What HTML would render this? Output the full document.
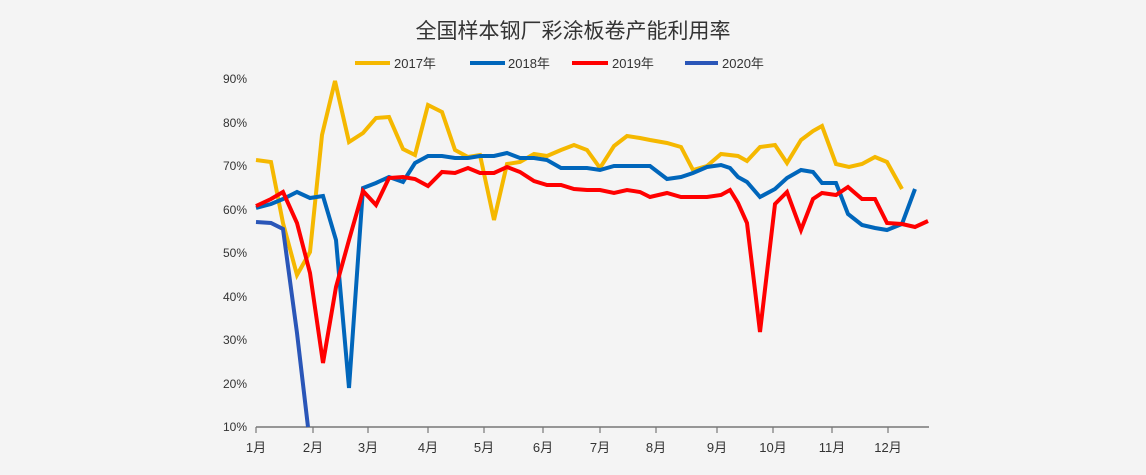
<!DOCTYPE html>
<html><head><meta charset="utf-8"><style>
html,body{margin:0;padding:0;background:#f4f4f4;}
svg{display:block;}
text{font-family:"Liberation Sans","Noto Sans CJK SC",sans-serif;fill:#333;}
</style></head><body>
<svg width="1146" height="475" viewBox="0 0 1146 475">
<rect width="1146" height="475" fill="#f4f4f4"/>
<text x="573" y="38" font-size="21" text-anchor="middle" fill="#222">全国样本钢厂彩涂板卷产能利用率</text>
<g font-size="13">
<line x1="355" y1="63" x2="390" y2="63" stroke="#F5B800" stroke-width="4"/><text x="394" y="68">2017年</text>
<line x1="470" y1="63" x2="505" y2="63" stroke="#0066BB" stroke-width="4"/><text x="508" y="68">2018年</text>
<line x1="572" y1="63" x2="608" y2="63" stroke="#FF0000" stroke-width="4"/><text x="612" y="68">2019年</text>
<line x1="685" y1="63" x2="718" y2="63" stroke="#2A56B8" stroke-width="4"/><text x="722" y="68">2020年</text>
</g>
<g font-size="12" text-anchor="end">
<text x="247" y="83">90%</text><text x="247" y="127">80%</text><text x="247" y="170">70%</text><text x="247" y="214">60%</text><text x="247" y="257">50%</text><text x="247" y="301">40%</text><text x="247" y="344">30%</text><text x="247" y="388">20%</text><text x="247" y="431">10%</text>
</g>
<line x1="256" y1="427" x2="929" y2="427" stroke="#777" stroke-width="1.5"/>
<g stroke="#777" stroke-width="1.2">
<line x1="256" y1="427" x2="256" y2="433"/><line x1="313" y1="427" x2="313" y2="433"/><line x1="368" y1="427" x2="368" y2="433"/><line x1="428" y1="427" x2="428" y2="433"/><line x1="484" y1="427" x2="484" y2="433"/><line x1="543" y1="427" x2="543" y2="433"/><line x1="600" y1="427" x2="600" y2="433"/><line x1="656" y1="427" x2="656" y2="433"/><line x1="717" y1="427" x2="717" y2="433"/><line x1="773" y1="427" x2="773" y2="433"/><line x1="832" y1="427" x2="832" y2="433"/><line x1="888" y1="427" x2="888" y2="433"/>
</g>
<g font-size="13" text-anchor="middle">
<text x="256" y="452">1月</text><text x="313" y="452">2月</text><text x="368" y="452">3月</text><text x="428" y="452">4月</text><text x="484" y="452">5月</text><text x="543" y="452">6月</text><text x="600" y="452">7月</text><text x="656" y="452">8月</text><text x="717" y="452">9月</text><text x="773" y="452">10月</text><text x="832" y="452">11月</text><text x="888" y="452">12月</text>
</g>
<g fill="none" stroke-width="4" stroke-linejoin="miter">
<polyline stroke="#F5B800" points="256,160 271,162 283,223 297,275 310,252 322,135 335,81 349,142 363,133 376,118 389,117 403,149 415,155 428,105 442,112 455,150 468,157 480,155 494,220 507,164 520,162 534,154 547,156 561,150 574,145 587,150 600,168 614,146 627,136 640,138 650,140 667,143 681,147 693,170 707,166 721,154 738,156 747,161 760,147 775,145 787,163 801,140 813,131 822,126 836,164 849,167 862,164 875,157 887,162 902,189"/>
<polyline stroke="#0066BB" points="256,208 271,204 283,199 297,192 310,198 323,196 336,240 349,388 363,188 376,183 389,177 403,182 415,163 428,156 442,156 455,158 468,158 480,156 494,156 507,153 520,158 534,158 547,160 561,168 574,168 587,168 600,170 614,166 627,166 640,166 650,166 667,179 681,177 693,173 707,167 721,165 730,168 738,177 747,182 760,197 775,189 787,178 801,170 813,172 822,183 836,183 848,214 862,225 875,228 887,230 902,224 915,189"/>
<polyline stroke="#FF0000" points="256,206 271,199 283,192 297,223 310,273 323,363 336,287 349,240 363,191 376,205 389,178 403,177 415,179 428,186 442,172 455,173 468,168 480,173 494,173 507,167 520,172 534,181 547,185 561,185 574,189 587,190 600,190 614,193 627,190 640,192 650,197 667,193 681,197 693,197 707,197 721,195 730,190 738,203 747,223 760,332 775,204 787,192 801,230 813,199 822,193 836,195 848,187 862,199 875,199 887,223 902,224 915,227 928,221"/>
<polyline stroke="#2A56B8" points="256,222 271,223 283,229 297,333 308,427"/>
</g>
</svg>
</body></html>
